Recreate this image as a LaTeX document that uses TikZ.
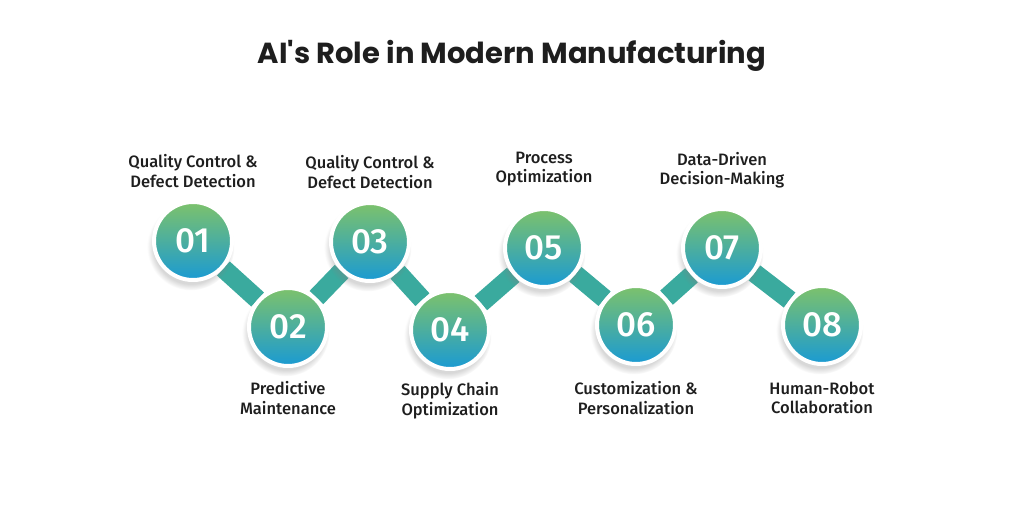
\documentclass[tikz,border=0pt]{standalone}
\usepackage{fontspec}
\setmainfont{Fira Sans}
\newfontfamily\titlefont{Poppins}
\newfontfamily\medfont{Fira Sans Medium}
\usetikzlibrary{positioning,shadows,backgrounds}
\definecolor{stepgreen}{HTML}{7DC26B}
\definecolor{stepblue}{HTML}{1A9AD3}
\definecolor{linkteal}{HTML}{3AAA9E}
\definecolor{inkgray}{HTML}{1E1E1E}

\begin{document}
\begin{tikzpicture}[x=1pt,y=-1pt,
    stepdot/.style={circle,minimum size=78pt,inner sep=0pt,
        top color=stepgreen,bottom color=stepblue,draw=white,line width=4pt,
        circular drop shadow={shadow xshift=-2pt,shadow yshift=-5pt,opacity=0.3,shadow scale=1.12},
        text=white,font=\medfont\fontsize{35}{35}\selectfont},
    link/.style={line width=19pt,draw=linkteal},
    steplabel/.style={align=center,text=inkgray,font=\medfont\fontsize{16.5}{19.5}\selectfont}]
    \useasboundingbox (0,0) rectangle (1024,512);
    % title
    \node[text=inkgray,font=\titlefont\bfseries\fontsize{29}{32}\selectfont] (title) at (512,56) {AI's Role in Modern Manufacturing};
    % step circles
    \foreach \n/\x/\y in {1/193/241,2/288/327,3/370/242,4/450/330,5/544/248,6/636/325,7/722/248,8/822/325}{
        \node[stepdot] (c\n) at (\x,\y) {0\n};
    }
    \begin{scope}[on background layer]
        \fill[white] (0,0) rectangle (1024,512);
        \foreach \a/\b in {1/2,2/3,3/4,4/5,5/6,6/7,7/8}{
            \draw[link] (c\a) -- (c\b);
        }
    \end{scope}
    % labels above
    \node[steplabel,above=9pt of c1] (t1) {Quality Control \&\\Defect Detection};
    \node[steplabel,above=9pt of c3] (t3) {Quality Control \&\\Defect Detection};
    \node[steplabel,above=17pt of c5] (t5) {Process\\Optimization};
    \node[steplabel,above=15pt of c7] (t7) {Data-Driven\\Decision-Making};
    % labels below
    \node[steplabel,below=10pt of c2] (t2) {Predictive\\Maintenance};
    \node[steplabel,below=8pt of c4] (t4) {Supply Chain\\Optimization};
    \node[steplabel,below=12pt of c6] (t6) {Customization \&\\Personalization};
    \node[steplabel,below=12pt of c8] (t8) {Human-Robot\\Collaboration};
\end{tikzpicture}
\end{document}
